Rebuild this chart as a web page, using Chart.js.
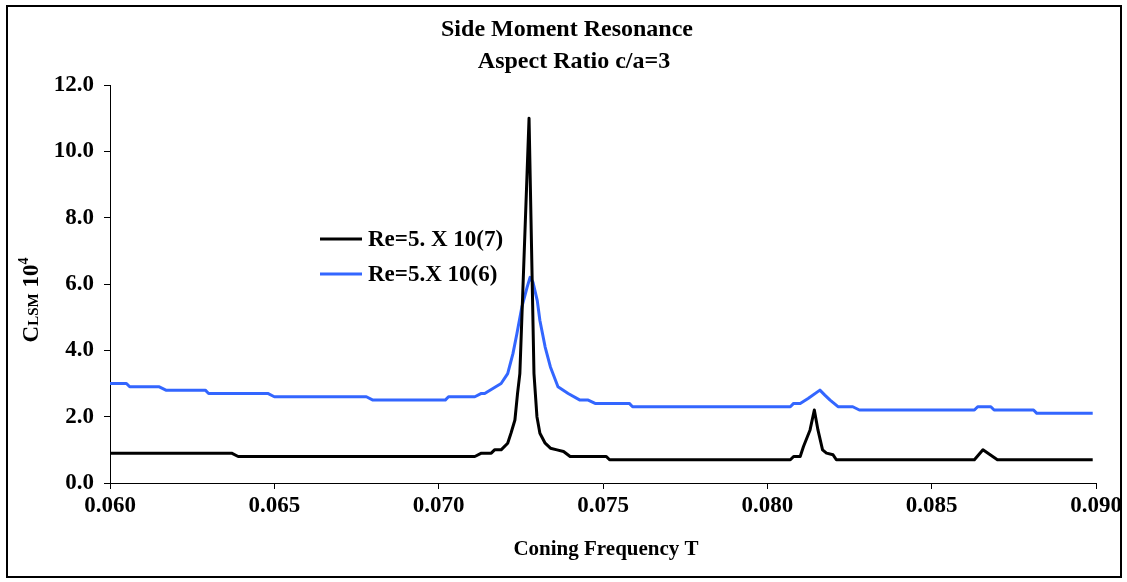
<!DOCTYPE html>
<html>
<head>
<meta charset="utf-8">
<script src="https://cdn.jsdelivr.net/npm/chart.js@4.4.1/dist/chart.umd.min.js"></script>
<style>
  html, body { margin: 0; padding: 0; background: #fff; }
  #lienzo { display: block; }
</style>
</head>
<body>
<canvas id="lienzo" width="1127" height="582"></canvas>
<script>
// Re=5. X 10(7)  (black curve)
const xNegro = [0.0600, 0.0637, 0.0639, 0.0711, 0.0713, 0.0716, 0.0717, 0.0719, 0.0721, 0.0722,
    0.07232, 0.0724, 0.07247, 0.07275, 0.07290, 0.07299,
    0.07308, 0.07324, 0.0734, 0.0736, 0.0738, 0.0740, 0.0751, 0.0752, 0.0807, 0.0808,
    0.0810, 0.0811, 0.0813, 0.08143, 0.08154, 0.08168, 0.0818, 0.0820, 0.0821, 0.0863,
    0.08656, 0.0870, 0.0899];
const yNegro = [0.9, 0.9, 0.8, 0.8, 0.9, 0.9, 1.0, 1.0, 1.2, 1.5,
    1.9, 2.7, 3.3, 11.0, 3.3, 2.0,
    1.5, 1.2, 1.05, 1.0, 0.95, 0.8, 0.8, 0.7, 0.7, 0.8,
    0.8, 1.1, 1.6, 2.2, 1.6, 1.0, 0.9, 0.85, 0.7, 0.7,
    1.0, 0.7, 0.7];

// Re=5.X 10(6)  (blue curve)
const xAzul = [0.0600, 0.0605, 0.0606, 0.0615, 0.0617, 0.0629, 0.0630, 0.0648, 0.0650, 0.0678,
    0.0680, 0.0702, 0.0703, 0.0711, 0.0713, 0.0714, 0.0719, 0.0721, 0.07226, 0.07238,
    0.07253, 0.07269, 0.07278, 0.07287, 0.0730, 0.07308, 0.07324, 0.0734, 0.07363, 0.07394,
    0.0743, 0.07455, 0.07476, 0.0758, 0.0759, 0.0807, 0.0808, 0.0810, 0.08124, 0.0816,
    0.08175, 0.08191, 0.08215, 0.0826, 0.0828, 0.0863, 0.0864, 0.0868, 0.0869, 0.0881,
    0.0882, 0.0899];
const yAzul = [3.0, 3.0, 2.9, 2.9, 2.8, 2.8, 2.7, 2.7, 2.6, 2.6,
    2.5, 2.5, 2.6, 2.6, 2.7, 2.7, 3.0, 3.3, 3.9, 4.5,
    5.3, 5.9, 6.2, 6.05, 5.5, 4.9, 4.1, 3.5, 2.9, 2.7,
    2.5, 2.5, 2.4, 2.4, 2.3, 2.3, 2.4, 2.4, 2.55, 2.8,
    2.65, 2.5, 2.3, 2.3, 2.2, 2.2, 2.3, 2.3, 2.2, 2.2,
    2.1, 2.1];

const series = ['Re=5. X 10(7)', 'Re=5.X 10(6)'];
const colores = ['#000000', '#3366ff'];
const titulo = ['Side Moment Resonance', 'Aspect Ratio c/a=3'];
const tituloX = 'Coning Frequency T';
const ticksX = [0.060, 0.065, 0.070, 0.075, 0.080, 0.085, 0.090];
const ticksY = [0, 2, 4, 6, 8, 10, 12];

const FUENTE = '"Liberation Serif", "Times New Roman", serif';

const unir = (xs, ys) => xs.map((x, i) => ({ x: x, y: ys[i] }));

// frame, titles and legend drawn on top of the chart
const decorado = {
    id: 'decorado',
    afterDraw: (chart) => {
        const ctx = chart.ctx;
        ctx.save();
        ctx.strokeStyle = '#000';
        ctx.lineWidth = 2;
        ctx.strokeRect(7, 6, 1114, 571);

        ctx.fillStyle = '#000';
        ctx.textAlign = 'center';
        ctx.textBaseline = 'alphabetic';
        ctx.font = 'bold 24px ' + FUENTE;
        ctx.fillText(titulo[0], 567, 36);
        ctx.fillText(titulo[1], 574, 68);

        ctx.font = 'bold 21px ' + FUENTE;
        ctx.fillText(tituloX, 606, 555);

        // y title: C(LSM) 10^4, rotated
        const partes = [
            { t: 'C', f: 'bold 23px ', dy: 0 },
            { t: 'LSM', f: 'bold 15px ', dy: 0 },
            { t: ' 10', f: 'bold 23px ', dy: 0 },
            { t: '4', f: 'bold 14px ', dy: -10 }
        ];
        let total = 0;
        partes.forEach(p => { ctx.font = p.f + FUENTE; p.w = ctx.measureText(p.t).width; total += p.w; });
        ctx.translate(38, 300);
        ctx.rotate(-Math.PI / 2);
        ctx.textAlign = 'left';
        let pos = -total / 2;
        partes.forEach(p => {
            ctx.font = p.f + FUENTE;
            ctx.fillText(p.t, pos, p.dy);
            pos += p.w;
        });
        ctx.restore();

        // legend
        ctx.save();
        ctx.font = 'bold 23px ' + FUENTE;
        ctx.textBaseline = 'middle';
        ctx.textAlign = 'left';
        [239, 274].forEach((y, i) => {
            ctx.strokeStyle = colores[i];
            ctx.lineWidth = 3;
            ctx.beginPath();
            ctx.moveTo(320, y);
            ctx.lineTo(362, y);
            ctx.stroke();
            ctx.fillStyle = '#000';
            ctx.fillText(series[i], 368, y + 1);
        });
        ctx.restore();
    }
};

const crearGrafica = () => {
    const ctx = document.getElementById('lienzo').getContext('2d');
    new Chart(ctx, {
        type: 'scatter',
        data: {
            datasets: [
                {
                    label: series[0],
                    data: unir(xNegro, yNegro),
                    showLine: true,
                    borderColor: colores[0],
                    borderWidth: 3,
                    borderJoinStyle: 'round',
                    pointRadius: 0,
                    tension: 0,
                    order: 1
                },
                {
                    label: series[1],
                    data: unir(xAzul, yAzul),
                    showLine: true,
                    borderColor: colores[1],
                    borderWidth: 3,
                    borderJoinStyle: 'round',
                    pointRadius: 0,
                    tension: 0,
                    order: 2
                }
            ]
        },
        options: {
            responsive: false,
            animation: false,
            layout: { padding: { top: 85, right: 31, left: 0, bottom: 0 } },
            plugins: {
                legend: { display: false },
                title: { display: false },
                tooltip: { enabled: false }
            },
            scales: {
                x: {
                    type: 'linear',
                    min: 0.06,
                    max: 0.09,
                    afterBuildTicks: (scale) => { scale.ticks = ticksX.map(v => ({ value: v })); },
                    afterFit: (scale) => { scale.height = 99; },
                    ticks: {
                        color: '#000',
                        padding: 3,
                        maxRotation: 0,
                        font: { family: FUENTE, size: 23, weight: 'bold' },
                        callback: (v) => Number(v).toFixed(3)
                    },
                    grid: { display: true, drawOnChartArea: false, drawTicks: true, tickLength: 6, color: '#000' },
                    border: { display: true, color: '#000', width: 1 }
                },
                y: {
                    type: 'linear',
                    min: 0,
                    max: 12,
                    afterBuildTicks: (scale) => { scale.ticks = ticksY.map(v => ({ value: v })); },
                    afterFit: (scale) => { scale.width = 110; },
                    ticks: {
                        color: '#000',
                        padding: 10,
                        font: { family: FUENTE, size: 23, weight: 'bold' },
                        callback: (v) => Number(v).toFixed(1)
                    },
                    grid: { display: true, drawOnChartArea: false, drawTicks: true, tickLength: 6, color: '#000' },
                    border: { display: true, color: '#000', width: 1 }
                }
            }
        },
        plugins: [decorado]
    });
};

crearGrafica();
</script>
</body>
</html>
